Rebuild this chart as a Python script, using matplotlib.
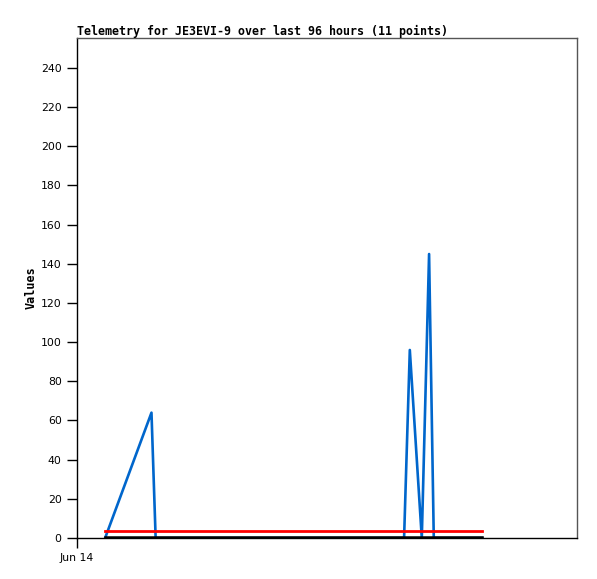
import numpy as np
import matplotlib.pyplot as plt

# hours since Jun 14 00:00
hours = [5.4, 14.3, 15.1, 62.8, 63.9, 66.2, 67.6, 68.5, 77.8]
blue_vals = [0, 64, 0, 0, 96, 0, 145, 0, 0]
red_vals = [3.7] * len(hours)
black_vals = [0] * len(hours)

yticks = list(range(0, 241, 20))
xtick_pos = [0]
xtick_labels = ['Jun 14']

fig = plt.figure(figsize=(5.97, 5.79), dpi=100)
ax = fig.add_axes([77 / 597, 41 / 579, 500 / 597, 500 / 579])

ax.plot(hours, blue_vals, color='#0066cc', lw=1.9, zorder=2)
ax.plot(hours, red_vals, color='#ff0000', lw=2.0, zorder=3)
ax.plot(hours, [v + 0.4 for v in black_vals], color='black', lw=1.8, zorder=4)

ax.set_xlim(0, 96)
ax.set_ylim(0, 255.3)
ax.set_yticks(yticks)
ax.set_yticklabels([str(v) for v in yticks], fontsize=7.8, family='DejaVu Sans')
ax.set_xticks(xtick_pos)
ax.set_xticklabels(xtick_labels, fontsize=7.8, family='DejaVu Sans')
ax.tick_params(axis='both', direction='out', length=7, width=1, pad=4)

for side in ['top', 'right']:
    ax.spines[side].set_color('#555555')
    ax.spines[side].set_linewidth(1)
for side in ['left', 'bottom']:
    ax.spines[side].set_color('black')
    ax.spines[side].set_linewidth(1)

ax.set_ylabel('Values', fontsize=8.5, family='DejaVu Sans Mono', fontweight='bold')
ax.yaxis.set_label_coords(-0.078, 0.5)
ax.set_title('Telemetry for JE3EVI-9 over last 96 hours (11 points)',
             fontsize=8.35, family='DejaVu Sans Mono', fontweight='bold',
             loc='left', pad=2)

fig.savefig('out.png', dpi=100)
